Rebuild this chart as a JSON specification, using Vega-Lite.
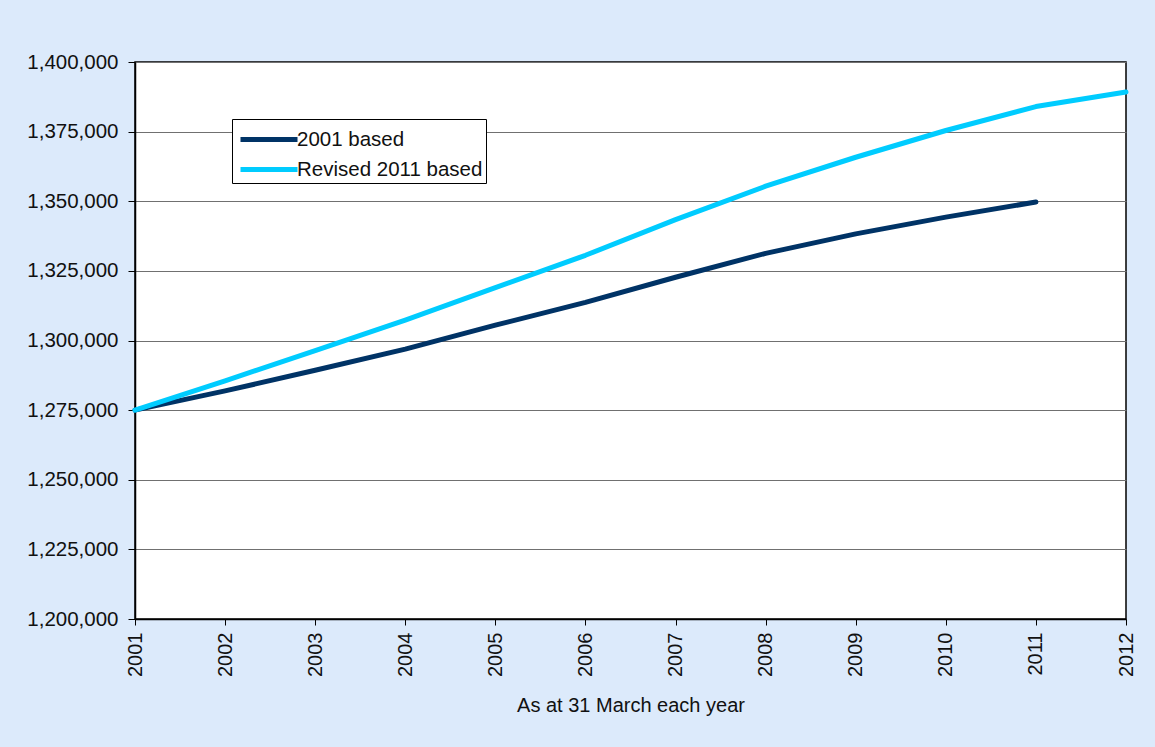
{
  "$schema": "https://vega.github.io/schema/vega-lite/v6.json",
  "width": 991,
  "height": 557,
  "autosize": {"type": "none"},
  "padding": {"left": 135, "top": 62, "right": 29, "bottom": 128},
  "background": "#DCEAFB",
  "config": {
    "font": "Liberation Sans",
    "view": {"fill": "white", "stroke": "black", "strokeWidth": 1.5}
  },
  "data": {
    "values": [
      {"year": 2001, "series": "2001 based", "pop": 1275000},
      {"year": 2002, "series": "2001 based", "pop": 1281900},
      {"year": 2003, "series": "2001 based", "pop": 1289300},
      {"year": 2004, "series": "2001 based", "pop": 1296900},
      {"year": 2005, "series": "2001 based", "pop": 1305500},
      {"year": 2006, "series": "2001 based", "pop": 1313700},
      {"year": 2007, "series": "2001 based", "pop": 1322700},
      {"year": 2008, "series": "2001 based", "pop": 1331300},
      {"year": 2009, "series": "2001 based", "pop": 1338300},
      {"year": 2010, "series": "2001 based", "pop": 1344300},
      {"year": 2011, "series": "2001 based", "pop": 1349700},
      {"year": 2001, "series": "Revised 2011 based", "pop": 1275000},
      {"year": 2002, "series": "Revised 2011 based", "pop": 1285500},
      {"year": 2003, "series": "Revised 2011 based", "pop": 1296400},
      {"year": 2004, "series": "Revised 2011 based", "pop": 1307300},
      {"year": 2005, "series": "Revised 2011 based", "pop": 1319000},
      {"year": 2006, "series": "Revised 2011 based", "pop": 1330600},
      {"year": 2007, "series": "Revised 2011 based", "pop": 1343400},
      {"year": 2008, "series": "Revised 2011 based", "pop": 1355400},
      {"year": 2009, "series": "Revised 2011 based", "pop": 1365800},
      {"year": 2010, "series": "Revised 2011 based", "pop": 1375400},
      {"year": 2011, "series": "Revised 2011 based", "pop": 1384000},
      {"year": 2012, "series": "Revised 2011 based", "pop": 1389200}
    ]
  },
  "mark": {"type": "line", "strokeWidth": 5, "strokeCap": "round", "strokeJoin": "round"},
  "encoding": {
    "x": {
      "field": "year",
      "type": "quantitative",
      "scale": {"domain": [2001, 2012], "nice": false, "zero": false},
      "axis": {
        "values": [2001, 2002, 2003, 2004, 2005, 2006, 2007, 2008, 2009, 2010, 2011, 2012],
        "format": "d",
        "labelAngle": -90,
        "labelFontSize": 20,
        "labelColor": "#111",
        "labelPadding": 7,
        "tickSize": 6,
        "tickColor": "black",
        "domainColor": "black",
        "domainWidth": 1.5,
        "grid": false,
        "title": "As at 31 March each year",
        "titleFontSize": 20,
        "titleFontWeight": "normal",
        "titleColor": "#111",
        "titlePadding": 19
      }
    },
    "y": {
      "field": "pop",
      "type": "quantitative",
      "scale": {"domain": [1200000, 1400000], "nice": false, "zero": false},
      "axis": {
        "values": [1200000, 1225000, 1250000, 1275000, 1300000, 1325000, 1350000, 1375000, 1400000],
        "format": ",d",
        "labelFontSize": 20.5,
        "labelColor": "#111",
        "labelPadding": 10,
        "tickSize": 7,
        "tickColor": "black",
        "domainColor": "black",
        "domainWidth": 1.5,
        "grid": true,
        "gridColor": "#707070",
        "gridWidth": 1.2,
        "title": null
      }
    },
    "color": {
      "field": "series",
      "type": "nominal",
      "scale": {"domain": ["2001 based", "Revised 2011 based"], "range": ["#003366", "#00CCFF"]},
      "legend": {
        "title": null,
        "orient": "none",
        "legendX": 97,
        "legendY": 57,
        "fillColor": "white",
        "strokeColor": "black",
        "padding": 3,
        "symbolType": "M -0.8 0 L 3 0",
        "symbolSize": 900,
        "symbolStrokeWidth": 5,
        "labelFontSize": 20.5,
        "labelColor": "#111",
        "labelOffset": 27,
        "rowPadding": 2,
        "labelLimit": 400
      }
    }
  }
}
